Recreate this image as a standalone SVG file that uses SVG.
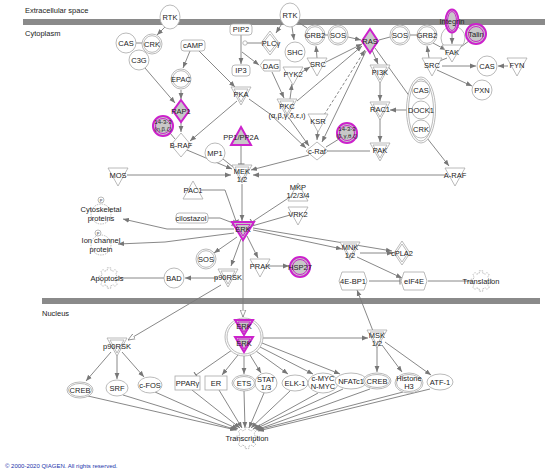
<svg xmlns="http://www.w3.org/2000/svg" width="550" height="476" viewBox="0 0 550 476">
<style>
.n{fill:#fff;stroke:#a8a8a8;stroke-width:0.8}
.m{fill:#c8c8c8;stroke:#cc22cc;stroke-width:2}
.mi{fill:none;stroke:#cc22cc;stroke-width:1}
.t{font-family:"Liberation Sans",Arial,sans-serif;font-size:7.5px;fill:#222;text-anchor:middle}
.s{font-size:6px}
.h{font-family:"Liberation Sans",Arial,sans-serif;font-size:7.5px;fill:#222}
.e{stroke:#7a7a7a;stroke-width:0.9;fill:none}
.a{marker-end:url(#a)}
.b{marker-end:url(#b)}
.o{marker-end:url(#o)}
.g{fill:#fff;stroke:#b0b0b0;stroke-width:0.7;stroke-dasharray:1.5 0.8}
.bar{fill:#8a8a8a}
</style>
<defs>
<marker id="a" viewBox="0 0 10 10" refX="10" refY="5" markerWidth="6" markerHeight="6" orient="auto" markerUnits="userSpaceOnUse"><path d="M0,1 L10,5 L0,9 z" fill="#777"/></marker>
<marker id="o" viewBox="0 0 10 10" refX="10" refY="5" markerWidth="7" markerHeight="7" orient="auto" markerUnits="userSpaceOnUse"><path d="M0,1 L10,5 L0,9 z" fill="#fff" stroke="#777"/></marker>
<marker id="b" viewBox="0 0 4 10" refX="2" refY="5" markerWidth="3" markerHeight="7" orient="auto" markerUnits="userSpaceOnUse"><path d="M2,0 L2,10" stroke="#777" stroke-width="1.5"/></marker>
<path id="gear" d="M8.86,-1.56 L8.86,1.56 L6.83,1.51 L5.9,3.76 L7.37,5.16 L5.16,7.37 L3.76,5.9 L1.51,6.83 L1.56,8.86 L-1.56,8.86 L-1.51,6.83 L-3.76,5.9 L-5.16,7.37 L-7.37,5.16 L-5.9,3.76 L-6.83,1.51 L-8.86,1.56 L-8.86,-1.56 L-6.83,-1.51 L-5.9,-3.76 L-7.37,-5.16 L-5.16,-7.37 L-3.76,-5.9 L-1.51,-6.83 L-1.56,-8.86 L1.56,-8.86 L1.51,-6.83 L3.76,-5.9 L5.16,-7.37 L7.37,-5.16 L5.9,-3.76 L6.83,-1.51 Z"/>
</defs>
<rect width="550" height="476" fill="#fff"/>
<!-- compartments -->
<text class="h" x="25" y="13">Extracellular space</text>
<rect class="bar" x="23" y="19" width="522" height="6"/>
<text class="h" x="25" y="36">Cytoplasm</text>
<rect class="bar" x="42" y="298" width="498" height="6"/>
<text class="h" x="42" y="316">Nucleus</text>

<g id="edges">
<path class="e a" d="M165,27 L157,35"/>
<path class="e" d="M136,43 L142,43"/>
<path class="e a" d="M145,68 L175,103"/>
<path class="e a" d="M190,51 L183,68"/>
<path class="e a" d="M199,51 L235,87"/>
<path class="e a" d="M181,90 L181,99"/>
<path class="e a" d="M181,122 L181,132"/>
<path class="e" d="M170,133 L175,139"/>
<path class="e a" d="M237,101 L190,141"/>
<path class="e a" d="M241,35 L241,64"/>
<path class="e" d="M262,43 L247,43"/>
<path class="e a" d="M242,52 L259,65"/>
<path class="e a" d="M272,72 L284,98"/>
<path class="e a" d="M249,99 L270,114 L306,148"/>
<path class="e a" d="M289,118 L309,146"/>
<path class="e a" d="M292,27 L294,40"/>
<path class="e" d="M298,22 L307,28"/>
<path class="e a" d="M283,22 L276,33"/>
<path class="e" d="M325,35 L328,35"/>
<path class="e a" d="M348,37 L361,40"/>
<path class="e" d="M390,37 L379,40"/>
<path class="e" d="M410,35 L417,35"/>
<path class="e a" d="M433,43 L446,50"/>
<path class="e a" d="M452,33 L452,44"/>
<path class="e" d="M469,41 L458,49"/>
<path class="e" d="M447,58 L437,62"/>
<path class="e a" d="M429,58 L427,46"/>
<path class="e a" d="M442,66 L476,66"/>
<path class="e a" d="M508,66 L498,66"/>
<path class="e a" d="M437,70 L472,86"/>
<path class="e a" d="M317,58 L316,46"/>
<path class="e a" d="M302,72 L310,67"/>
<path class="e a" d="M290,99 L292,84"/>
<path class="e a" d="M326,62 L362,44"/>
<path class="e a" d="M297,101 L362,46"/>
<path class="e a" d="M324,115 L365,50" stroke-dasharray="3 2"/>
<path class="e a" d="M366,51 L322,142"/>
<path class="e a" d="M318,129 L317,140"/>
<path class="e" d="M339,139 L326,147"/>
<path class="e" d="M327,151 L370,151"/>
<path class="e a" d="M372,50 L378,64"/>
<path class="e a" d="M380,82 L380,101"/>
<path class="e a" d="M407,110 L390,110"/>
<path class="e a" d="M380,119 L380,142"/>
<path class="e" d="M375,48 L410,97"/>
<path class="e a" d="M427,138 L449,166"/>
<path class="e a" d="M309,155 L251,170"/>
<path class="e a" d="M187,150 L232,169"/>
<path class="e b" d="M241,146 L241,164"/>
<path class="e" d="M223,159 L233,167"/>
<path class="e a" d="M127,175 L231,175"/>
<path class="e a" d="M445,175 L253,175"/>
<path class="e a" d="M242,184 L242,221"/>
<path class="e b" d="M201,190 L225,190 L236,221"/>
<path class="e b" d="M208,218 L220,218 L233,223"/>
<path class="e b" d="M290,197 L252,222"/>
<path class="e" d="M290,215 L252,226"/>
<path class="e a" d="M234,229 L167,229 L123,219"/>
<path class="e a" d="M234,233 L165,242 L118,244"/>
<path class="e a" d="M237,237 L214,253"/>
<path class="e a" d="M241,239 L231,266"/>
<path class="e a" d="M247,236 L258,258"/>
<path class="e a" d="M253,230 L342,249"/>
<path class="e a" d="M253,228 L392,251"/>
<path class="e a" d="M360,253 L393,253"/>
<path class="e a" d="M357,257 L402,278"/>
<path class="e b" d="M369,281 L400,281"/>
<path class="e" d="M428,281 L470,281"/>
<path class="e a" d="M373,331 L357,290"/>
<path class="e o" d="M243,239 L243,317"/>
<path class="e a" d="M218,278 L185,278"/>
<path class="e" d="M164,278 L118,278"/>
<path class="e a" d="M268,266 L289,266"/>
<path class="e o" d="M221,285 L128,340"/>
<path class="e a" d="M111,352 L86,381"/>
<path class="e a" d="M117,353 L117,379"/>
<path class="e a" d="M122,352 L144,377"/>
<path class="e a" d="M263,338 L368,338"/>
<path class="e b" d="M232,350 L196,375"/>
<path class="e a" d="M238,355 L222,375"/>
<path class="e a" d="M244,356 L244,374"/>
<path class="e a" d="M250,355 L261,373"/>
<path class="e a" d="M256,351 L288,374"/>
<path class="e a" d="M260,347 L313,374"/>
<path class="e a" d="M262,343 L340,374"/>
<path class="e a" d="M377,346 L377,372"/>
<path class="e a" d="M382,345 L402,372"/>
<path class="e a" d="M385,342 L431,375"/>
<path class="e a" d="M88,396 L236,430"/>
<path class="e a" d="M123,395 L237,430"/>
<path class="e a" d="M155,392 L238,429"/>
<path class="e a" d="M192,390 L240,428"/>
<path class="e a" d="M219,390 L242,428"/>
<path class="e a" d="M244,391 L245,428"/>
<path class="e a" d="M264,393 L249,428"/>
<path class="e a" d="M290,391 L251,428"/>
<path class="e a" d="M318,393 L253,429"/>
<path class="e a" d="M343,389 L255,429"/>
<path class="e a" d="M370,389 L256,430"/>
<path class="e a" d="M403,392 L257,430"/>
<path class="e a" d="M430,389 L258,431"/>
</g>

<!-- top left -->
<g id="rtk1"><ellipse class="n" cx="170" cy="17" rx="10" ry="12"/><text class="t" x="170" y="20">RTK</text></g>
<g id="cas1"><circle class="n" cx="126" cy="43" r="10"/><text class="t" x="126" y="46">CAS</text></g>
<g id="c3g"><circle class="n" cx="139" cy="60" r="10"/><text class="t" x="139" y="63">C3G</text></g>
<g id="crk1"><circle class="n" cx="152" cy="44" r="10"/><circle class="n" cx="152" cy="44" r="8.3"/><text class="t" x="152" y="47">CRK</text></g>
<g id="camp"><rect class="n" x="181" y="40" width="24" height="11" rx="3"/><text class="t" x="193" y="48">cAMP</text></g>
<g id="epac"><circle class="n" cx="181" cy="79" r="10"/><circle class="n" cx="181" cy="79" r="8.3"/><text class="t" x="181" y="82">EPAC</text></g>
<g id="rap1"><path class="m" d="M181,100 L189,111 L181,122 L173,111 Z"/><text class="t" x="181" y="114">RAP1</text></g>
<g id="p1433a"><circle class="m" cx="163" cy="126" r="10"/><circle class="mi" cx="163" cy="126" r="7.5"/><text class="t s" x="163" y="124">14-3-3</text><text class="t s" x="163" y="131">(η,β,ζ)</text></g>
<g id="braf"><path class="n" d="M181,133 L191,145 L181,157 L171,145 Z"/><text class="t" x="181" y="148">B-RAF</text></g>
<g id="pip2"><rect class="n" x="230" y="24" width="22" height="11" rx="3"/><text class="t" x="241" y="32">PIP2</text></g>
<g id="plcg"><path class="n" d="M270,31 L279,43 L270,55 L261,43 Z"/><path class="n" d="M270,34 L277,43 L270,52 L263,43 Z"/><text class="t" x="271" y="46">PLCγ</text></g>
<circle class="n" cx="245" cy="43" r="2.2"/>
<g id="ip3"><rect class="n" x="232" y="65" width="18" height="11" rx="3"/><text class="t" x="241" y="73">IP3</text></g>
<g id="dag"><path class="n" d="M264,60 L280,60 L280,71 L264,71 L260,65.5 Z"/><text class="t" x="271" y="68.5">DAG</text></g>
<g id="pka"><path class="n" d="M231,87 L251,87 L241,105 Z"/><path class="n" d="M234,89 L248,89 L241,102 Z"/><text class="t" x="241" y="97">PKA</text></g>
<g id="pp1"><path class="m" d="M241,127 L251,145 L231,145 Z"/><text class="t" x="241" y="140">PP1/PP2A</text></g>
<g id="mp1"><circle class="n" cx="215" cy="153" r="10"/><text class="t" x="215" y="156">MP1</text></g>

<!-- top middle -->
<g id="rtk2"><ellipse class="n" cx="290" cy="15" rx="10" ry="12"/><text class="t" x="290" y="18">RTK</text></g>
<g id="shc"><circle class="n" cx="295" cy="52" r="10"/><text class="t" x="295" y="55">SHC</text></g>
<g id="grb2a"><circle class="n" cx="315" cy="35" r="10"/><circle class="n" cx="315" cy="35" r="8.3"/><text class="t" x="315" y="38">GRB2</text></g>
<g id="sosa"><circle class="n" cx="338" cy="35" r="10"/><circle class="n" cx="338" cy="35" r="8.3"/><text class="t" x="338" y="38">SOS</text></g>
<g id="ras"><path class="m" d="M370,29 L378,41 L370,53 L362,41 Z"/><text class="t" x="370" y="44">RAS</text></g>
<g id="sosb"><circle class="n" cx="400" cy="35" r="10"/><circle class="n" cx="400" cy="35" r="8.3"/><text class="t" x="400" y="38">SOS</text></g>
<g id="srca"><path class="n" d="M307,58 L327,58 L317,76 Z"/><text class="t" x="318" y="67">SRC</text></g>
<g id="pyk2"><path class="n" d="M283,67 L303,67 L293,85 Z"/><text class="t" x="293" y="77">PYK2</text></g>
<g id="pkc"><path class="n" d="M277,99 L297,99 L287,117 Z"/><path class="n" d="M280,101 L294,101 L287,114 Z"/><text class="t" x="287" y="109">PKC</text><text class="t" x="287" y="118">(α,β,γ,δ,ε,ι)</text></g>
<g id="ksr"><path class="n" d="M308,114 L328,114 L318,132 Z"/><text class="t" x="318" y="124">KSR</text></g>
<g id="p1433b"><circle class="m" cx="347" cy="133" r="10"/><circle class="mi" cx="347" cy="133" r="7.5"/><text class="t s" x="347" y="131">14-3-3</text><text class="t s" x="347" y="138">(β,γ,θ,ζ)</text></g>
<g id="craf"><path class="n" d="M317,142 L328,151 L317,160 L306,151 Z"/><text class="t" x="317" y="154">c-Raf</text></g>
<g id="pi3k"><path class="n" d="M370,65 L390,65 L380,83 Z"/><path class="n" d="M373,67 L387,67 L380,80 Z"/><text class="t" x="380" y="75">PI3K</text></g>
<g id="rac1"><path class="n" d="M370,102 L390,102 L380,120 Z"/><path class="n" d="M373,104 L387,104 L380,117 Z"/><text class="t" x="380" y="112">RAC1</text></g>
<g id="pak"><path class="n" d="M370,143 L390,143 L380,161 Z"/><path class="n" d="M373,145 L387,145 L380,158 Z"/><text class="t" x="380" y="153">PAK</text></g>

<!-- top right -->
<g id="grb2b"><circle class="n" cx="427" cy="35" r="10"/><circle class="n" cx="427" cy="35" r="8.3"/><text class="t" x="427" y="38">GRB2</text></g>
<g id="fakcx"><circle class="n" cx="453" cy="38" r="12" fill="none" style="fill:none"/></g>
<g id="integrin"><ellipse class="m" cx="452" cy="21" rx="6.5" ry="11.5"/><ellipse class="mi" cx="452" cy="21" rx="4.5" ry="9.5"/><text class="t" x="452" y="24">Integrin</text></g>
<g id="talin"><circle class="m" cx="476" cy="34" r="10"/><circle class="mi" cx="476" cy="34" r="7.5"/><text class="t" x="476" y="37">Talin</text></g>
<g id="fak"><path class="n" d="M442,45 L462,45 L452,62 Z"/><text class="t" x="452" y="55">FAK</text></g>
<g id="srcb"><path class="n" d="M422,58 L442,58 L432,76 Z"/><text class="t" x="432" y="68">SRC</text></g>
<g id="casb"><circle class="n" cx="487" cy="66" r="10"/><text class="t" x="487" y="69">CAS</text></g>
<g id="fyn"><path class="n" d="M507,58 L527,58 L517,76 Z"/><text class="t" x="517" y="68">FYN</text></g>
<g id="pxn"><circle class="n" cx="482" cy="90" r="10"/><text class="t" x="482" y="93">PXN</text></g>
<g id="cplx"><ellipse class="n" cx="421" cy="110" rx="14.5" ry="33"/><ellipse class="n" cx="421" cy="110" rx="12.5" ry="31"/>
<circle class="n" cx="421" cy="90" r="9"/><text class="t" x="421" y="93">CAS</text>
<circle class="n" cx="421" cy="110" r="9"/><text class="t" x="421" y="113">DOCK1</text>
<circle class="n" cx="421" cy="129" r="9"/><text class="t" x="421" y="132">CRK</text></g>
<g id="araf"><path class="n" d="M445,168 L465,168 L455,186 Z"/><text class="t" x="455" y="178">A-RAF</text></g>

<!-- middle -->
<g id="mos"><path class="n" d="M108,168 L128,168 L118,186 Z"/><text class="t" x="118" y="178">MOS</text></g>
<g id="mek"><path class="n" d="M232,165 L252,165 L242,183 Z"/><path class="n" d="M235,167 L249,167 L242,180 Z"/><text class="t" x="242" y="174">MEK</text><text class="t" x="242" y="182">1/2</text></g>
<g id="pac1"><path class="n" d="M193,181 L203,199 L183,199 Z"/><text class="t" x="193" y="193">PAC1</text></g>
<g id="cilo"><rect class="n" x="176" y="213" width="32" height="10" rx="3"/><text class="t" x="191" y="220.5">cilostazol</text></g>
<g id="mkp"><path class="n" d="M298,183 L308,201 L288,201 Z"/><text class="t" x="298" y="190">MKP</text><text class="t" x="298" y="198">1/2/3/4</text></g>
<g id="vrk2"><path class="n" d="M288,207 L308,207 L298,225 Z"/><text class="t" x="298" y="217">VRK2</text></g>
<g id="erk"><path class="m" d="M232,222 L254,222 L243,240 Z"/><path class="mi" d="M236,224.5 L250,224.5 L243,236 Z"/><text class="t" x="243" y="232">ERK</text></g>
<g id="cyto"><circle class="n" cx="101" cy="214" r="10" style="stroke-dasharray:1.5 1"/><circle class="n" cx="101" cy="200" r="3"/><text class="t" x="101" y="202" style="font-size:4px">P</text><text class="t" x="101" y="212">Cytoskeletal</text><text class="t" x="101" y="221">proteins</text></g>
<g id="ion"><circle class="n" cx="101" cy="245" r="10" style="stroke-dasharray:1.5 1"/><circle class="n" cx="98" cy="233" r="3"/><text class="t" x="98" y="235" style="font-size:4px">P</text><text class="t" x="101" y="243">Ion channel</text><text class="t" x="101" y="252">protein</text></g>
<g id="apop"><use href="#gear" class="g" transform="translate(109,278) scale(1.15)"/><text class="t" x="107" y="281">Apoptosis</text></g>
<g id="sosc"><circle class="n" cx="206" cy="259" r="10"/><circle class="n" cx="206" cy="259" r="8.3"/><text class="t" x="206" y="262">SOS</text></g>
<g id="bad"><circle class="n" cx="174" cy="278" r="10"/><text class="t" x="174" y="281">BAD</text></g>
<g id="p90a"><path class="n" d="M218,269 L238,269 L228,287 Z"/><path class="n" d="M221,271 L235,271 L228,284 Z"/><text class="t" x="228" y="280">p90RSK</text></g>
<g id="prak"><path class="n" d="M250,259 L270,259 L260,277 Z"/><text class="t" x="260" y="269">PRAK</text></g>
<g id="hsp27"><circle class="m" cx="300" cy="267" r="10"/><circle class="mi" cx="300" cy="267" r="7.5"/><text class="t" x="300" y="270">HSP27</text></g>
<g id="mnk"><path class="n" d="M340,242 L360,242 L350,260 Z"/><path class="n" d="M343,244 L357,244 L350,257 Z"/><text class="t" x="350" y="250">MNK</text><text class="t" x="350" y="258">1/2</text></g>
<g id="cpla2"><path class="n" d="M402,241 L410,253 L402,265 L394,253 Z"/><path class="n" d="M402,244 L408,253 L402,262 L396,253 Z"/><text class="t" x="402" y="256">cPLA2</text></g>
<g id="ebp1"><path class="n" d="M339,281 L342,272 L364,272 L367,281 L364,290 L342,290 Z"/><text class="t" x="353" y="284">4E-BP1</text></g>
<g id="eif4e"><path class="n" d="M401,281 L404,272 L424,272 L427,281 L424,290 L404,290 Z"/><text class="t" x="414" y="284">eIF4E</text></g>
<g id="transl"><use href="#gear" class="g" transform="translate(481,281) scale(1.15)"/><text class="t" x="481" y="284">Translation</text></g>

<!-- nucleus -->
<g id="erkcx"><circle class="n" cx="244" cy="337" r="19"/><circle class="n" cx="244" cy="337" r="17"/>
<path class="m" d="M235,320 L253,320 L244,335 Z"/><path class="mi" d="M238,322 L250,322 L244,332 Z"/><text class="t" x="244" y="329">ERK</text>
<path class="m" d="M235,337 L253,337 L244,352 Z"/><path class="mi" d="M238,339 L250,339 L244,349 Z"/><text class="t" x="244" y="346">ERK</text></g>
<g id="p90b"><path class="n" d="M107,338 L127,338 L117,356 Z"/><path class="n" d="M110,340 L124,340 L117,353 Z"/><text class="t" x="117" y="349">p90RSK</text></g>
<g id="msk"><path class="n" d="M367,330 L387,330 L377,348 Z"/><path class="n" d="M370,332 L384,332 L377,345 Z"/><text class="t" x="377" y="338">MSK</text><text class="t" x="377" y="346">1/2</text></g>
<g id="creba"><ellipse class="n" cx="80" cy="390" rx="13" ry="8"/><ellipse class="n" cx="80" cy="390" rx="11.5" ry="6.5"/><text class="t" x="80" y="393">CREB</text></g>
<g id="srf"><ellipse class="n" cx="117" cy="388" rx="11" ry="8"/><text class="t" x="117" y="391">SRF</text></g>
<g id="cfos"><ellipse class="n" cx="150" cy="385" rx="12" ry="8"/><text class="t" x="150" y="388">c-FOS</text></g>
<g id="ppar"><rect class="n" x="175" y="376" width="25" height="14"/><text class="t" x="187.5" y="386">PPARγ</text></g>
<g id="er"><rect class="n" x="205" y="376" width="22" height="14"/><text class="t" x="216" y="386">ER</text></g>
<g id="ets"><ellipse class="n" cx="244" cy="383" rx="12" ry="8"/><ellipse class="n" cx="244" cy="383" rx="10.5" ry="6.5"/><text class="t" x="244" y="386">ETS</text></g>
<g id="stat"><ellipse class="n" cx="266" cy="383" rx="11" ry="10"/><text class="t" x="266" y="382">STAT</text><text class="t" x="266" y="390">1/3</text></g>
<g id="elk1"><ellipse class="n" cx="295" cy="383" rx="13" ry="8"/><text class="t" x="295" y="386">ELK-1</text></g>
<g id="myc"><ellipse class="n" cx="323" cy="383" rx="15" ry="10"/><text class="t" x="323" y="381">c-MYC</text><text class="t" x="323" y="389">N-MYC</text></g>
<g id="nfat"><ellipse class="n" cx="351" cy="381" rx="16" ry="8"/><text class="t" x="351" y="384">NFATc1</text></g>
<g id="crebb"><ellipse class="n" cx="377" cy="381" rx="14" ry="8"/><ellipse class="n" cx="377" cy="381" rx="12.5" ry="6.5"/><text class="t" x="377" y="384">CREB</text></g>
<g id="h3"><ellipse class="n" cx="409" cy="383" rx="14" ry="10"/><ellipse class="n" cx="409" cy="383" rx="12.5" ry="8.5"/><text class="t" x="409" y="381">Histone</text><text class="t" x="409" y="389">H3</text></g>
<g id="atf1"><ellipse class="n" cx="440" cy="382" rx="13" ry="8"/><text class="t" x="440" y="385">ATF-1</text></g>
<g id="transc"><use href="#gear" class="g" transform="translate(247,438) scale(1.2)"/><text class="t" x="247" y="441">Transcription</text></g>

<text x="5" y="468" style="font-family:'Liberation Sans',Arial,sans-serif;font-size:6px;fill:#2233aa">© 2000-2020 QIAGEN. All rights reserved.</text>
</svg>
